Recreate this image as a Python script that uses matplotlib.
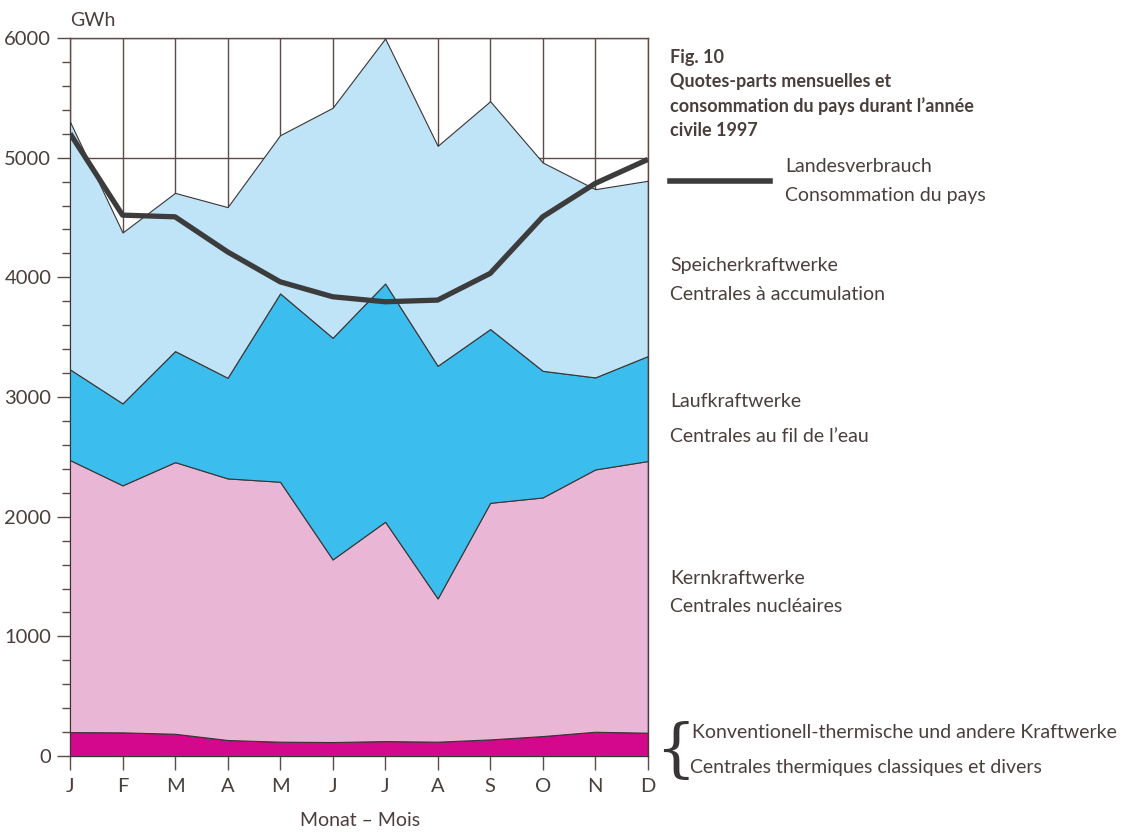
import numpy as np
import matplotlib.pyplot as plt
from matplotlib.ticker import MultipleLocator

# Données mensuelles 1997 (GWh)
mois = ['J', 'F', 'M', 'A', 'M', 'J', 'J', 'A', 'S', 'O', 'N', 'D']
thermique = [200, 198, 186, 134, 120, 117, 125, 120, 139, 167, 203, 195]
nucleaire = [2273, 2064, 2270, 2186, 2172, 1526, 1833, 1197, 1977, 1994, 2192, 2270]
fil_eau = [758, 685, 928, 841, 1574, 1852, 1991, 1944, 1452, 1058, 769, 877]
accumulation = [2069, 1428, 1322, 1426, 1322, 1922, 2047, 1838, 1904, 1741, 1573, 1465]
consommation = [5202, 4520, 4506, 4213, 3963, 3838, 3796, 3810, 4033, 4506, 4785, 4985]

plt.rcParams['font.family'] = ['Lato', 'DejaVu Sans']
txt = '#4a3e3c'
grille = '#5e4a46'

fig = plt.figure(figsize=(11.33, 8.32), dpi=100)
ax = fig.add_axes([0.0618, 0.0913, 0.5099, 0.8630])

x = np.arange(len(mois))
ax.stackplot(x, thermique, nucleaire, fil_eau, accumulation,
             colors=['#d4088c', '#e9b6d5', '#3bbdee', '#bfe3f7'],
             edgecolor='#3a3535', linewidth=0.8, zorder=2)
ax.plot(x, consommation, color='#3c3c3c', linewidth=3.8, solid_capstyle='butt', zorder=3)

ax.set_xlim(0, 11)
ax.set_ylim(0, 6000)
ax.set_xticks(x)
ax.set_xticklabels(mois)
ax.yaxis.set_major_locator(MultipleLocator(1000))
ax.yaxis.set_minor_locator(MultipleLocator(200))
ax.grid(True, which='major', color=grille, linewidth=1, zorder=1)
ax.set_axisbelow(True)
for s in ax.spines.values():
    s.set_color(grille)
    s.set_linewidth(1)
    s.set_zorder(1)
ax.tick_params(axis='y', which='major', length=9.5, width=1, color=grille,
               labelsize=14.5, labelcolor=txt, pad=4)
ax.tick_params(axis='y', which='minor', length=5.8, width=1, color=grille)
ax.tick_params(axis='x', length=10, width=1, color=grille,
               labelsize=14.5, labelcolor=txt, pad=6)

fig.text(70 / 1133, 1 - 20 / 832, 'GWh', fontsize=14, color=txt, va='center', ha='left')
fig.text(360 / 1133, 1 - 820 / 832, 'Monat – Mois', fontsize=14, color=txt, va='center', ha='center')

# Titre
titre = ['Fig. 10', 'Quotes-parts mensuelles et',
         'consommation du pays durant l\u2019année', 'civile 1997']
for i, t in enumerate(titre):
    fig.text(670 / 1133, 1 - (58 + i * 24) / 832, t, fontsize=13, fontweight='bold',
             color=txt, va='center', ha='left')

# Légende
fig.lines.append(plt.Line2D([670 / 1133, 770 / 1133], [1 - 181 / 832] * 2,
                            transform=fig.transFigure, color='#3c3c3c', linewidth=4))
etiquettes = [
    (785, 167, 'Landesverbrauch'), (785, 196, 'Consommation du pays'),
    (670, 265, 'Speicherkraftwerke'), (670, 294, 'Centrales à accumulation'),
    (670, 402, 'Laufkraftwerke'), (670, 436, 'Centrales au fil de l\u2019eau'),
    (670, 578, 'Kernkraftwerke'), (670, 606, 'Centrales nucléaires'),
    (692, 733, 'Konventionell-thermische und andere Kraftwerke'),
    (690, 767, 'Centrales thermiques classiques et divers'),
]
for px, py, t in etiquettes:
    fig.text(px / 1133, 1 - py / 832, t, fontsize=14, color=txt, va='center', ha='left')
fig.text(675 / 1133, 1 - 752 / 832, '{', fontsize=46, color='#3a3535',
         va='center', ha='center', family='DejaVu Serif')

fig.savefig('out.png', dpi=100)
